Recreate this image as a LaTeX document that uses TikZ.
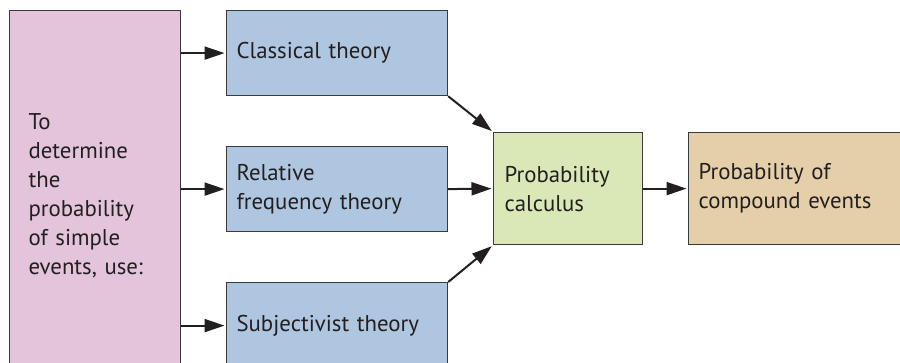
\documentclass[tikz,border=0pt]{standalone}
\usepackage{fontspec}
\setmainfont{PT Sans}
\usetikzlibrary{arrows.meta}
\definecolor{pinkfill}{HTML}{E3C4DA}
\definecolor{bluefill}{HTML}{AFC6E0}
\definecolor{greenfill}{HTML}{DAE8B8}
\definecolor{tanfill}{HTML}{E5CFA9}
\definecolor{edge}{HTML}{3A3A3A}
\definecolor{txt}{HTML}{231F20}
\tikzset{
  box/.style={draw=edge, line width=1.2pt, anchor=north west, align=left,
    inner ysep=0pt, text=txt, font=\fontsize{22.8}{29}\selectfont},
  arr/.style={line width=2pt, draw=txt, -{Triangle[length=20pt,width=13pt]}, shorten >=1.5pt}
}
\begin{document}
\begin{tikzpicture}[x=1pt,y=-1pt]
\useasboundingbox (0,0) rectangle (900,363);
\node[box, fill=pinkfill, inner xsep=19pt, text width=133pt, minimum height=370pt] (pink) at (9,10)
  {To\\determine\\the\\probability\\of simple\\events, use:};
\node[box, fill=bluefill, inner xsep=10pt, text width=201pt, minimum height=85pt] (classical) at (226,10)
  {Classical theory};
\node[box, fill=bluefill, inner xsep=10pt, text width=201pt, minimum height=85pt] (relative) at (226,146)
  {Relative\\frequency theory};
\node[box, fill=bluefill, inner xsep=10pt, text width=201pt, minimum height=86pt] (subj) at (226,282)
  {Subjectivist theory};
\node[box, fill=greenfill, inner xsep=11pt, text width=127pt, minimum height=112pt] (calc) at (493,132)
  {Probability\\calculus};
\node[box, fill=tanfill, inner xsep=10pt, text width=210pt, minimum height=112pt] (comp) at (688,132)
  {Probability of\\compound events};
\draw[arr] (pink.east |- classical.west) -- (classical.west);
\draw[arr] (pink.east |- relative.west) -- (relative.west);
\draw[arr] (pink.east |- subj.west) -- (subj.west);
\draw[arr] (classical.south east) -- (calc.north west);
\draw[arr] (relative.east) -- (calc.west);
\draw[arr] (subj.north east) -- (calc.south west);
\draw[arr] (calc.east) -- (comp.west);
\end{tikzpicture}
\end{document}
